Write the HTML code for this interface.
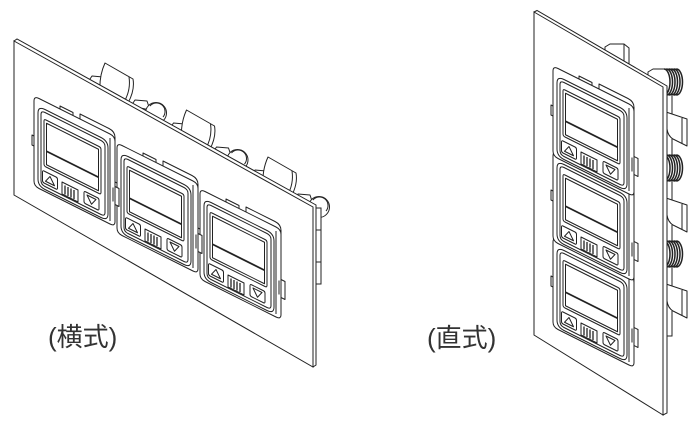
<!DOCTYPE html>
<html><head><meta charset="utf-8">
<style>
html,body{margin:0;padding:0;background:#fff;}
svg{display:block;}
</style></head><body>
<svg width="700" height="425" viewBox="0 0 700 425" xmlns="http://www.w3.org/2000/svg">

<!-- LEFT VIEW: behind panel (clips + connectors) -->
<g fill="#fff" stroke="#222" stroke-width="1" stroke-linejoin="round">
  <path d="M88,82 L92,76 L103,77 L103,88 Z"/>
  <path d="M105,63 L133,79 Q135,90 128,103 L100,92 Q99,76 105,63 Z"/>
  <path d="M129,77 Q131,90 124,102" fill="none"/>
  <path d="M131,106 L135,100 L147,101 L150,110 Z"/>
  <circle cx="156" cy="113" r="10.5"/>
  <path d="M150,106 A8,8 0 0 1 163,117" fill="none"/>
</g>
<g transform="translate(81.5,47)" fill="#fff" stroke="#222" stroke-width="1" stroke-linejoin="round">
  <path d="M88,82 L92,76 L103,77 L103,88 Z"/>
  <path d="M105,63 L133,79 Q135,90 128,103 L100,92 Q99,76 105,63 Z"/>
  <path d="M129,77 Q131,90 124,102" fill="none"/>
  <path d="M131,106 L135,100 L147,101 L150,110 Z"/>
  <circle cx="156" cy="113" r="10.5"/>
  <path d="M150,106 A8,8 0 0 1 163,117" fill="none"/>
</g>
<g transform="translate(163,94)" fill="#fff" stroke="#222" stroke-width="1" stroke-linejoin="round">
  <path d="M88,82 L92,76 L103,77 L103,88 Z"/>
  <path d="M105,63 L133,79 Q135,90 128,103 L100,92 Q99,76 105,63 Z"/>
  <path d="M129,77 Q131,90 124,102" fill="none"/>
  <path d="M131,106 L135,100 L147,101 L150,110 Z"/>
  <circle cx="156" cy="113" r="10.5"/>
  <path d="M150,106 A8,8 0 0 1 163,117" fill="none"/>
</g>
<rect x="313" y="208" width="8" height="76" fill="#fff" stroke="#222" stroke-width="1"/>
<line x1="313" y1="230" x2="321" y2="230" stroke="#222"/>
<line x1="313" y1="262" x2="321" y2="262" stroke="#222"/>

<!-- LEFT panel -->
<polygon points="14,41 17,39 316,205 316,365 313,367" fill="#fff" stroke="#222" stroke-width="1"/>
<polygon points="14,41 313,207 313,367 14,195" fill="#fff" stroke="#222" stroke-width="1"/>

<!-- LEFT device 3 -->
<g transform="translate(200,189)" fill="#fff" stroke="#222" stroke-width="1" stroke-linejoin="round">
  <path d="M26,19 L26,10 L39,16.5 L39,25.5 Z"/>
  <path d="M46,29 L46,18 L75,32.5 Q81,35.5 81,41.5 L81,46.5 Z"/>
  <path d="M81,90.5 L85,92.5 L85,110.5 L81,108.5 Z"/>
  <path d="M0,40 L-2,39 L-2,49 L0,50" fill="none"/>
  <path d="M5,2.5 L76,38 Q81,40.5 81,45.5 L81,125.5 Q81,130.5 76,128 L5,92.5 Q0,90 0,85 L0,5 Q0,0 5,2.5 Z"/>
  <line x1="76" y1="42" x2="76" y2="125"/>
  <line x1="79" y1="91.5" x2="79" y2="105.5"/>
  <path d="M11,13.5 L67,41.5 Q74,45 74,52 L74,118 Q74,125 67,121.5 L11,93.5 Q4,90 4,83 L4,17 Q4,10 11,13.5 Z"/>
  <path d="M11,16.5 L67,44.5 Q71,46.5 71,50.5 L71,116.5 Q71,120.5 67,118.5 L11,90.5 Q7,88.5 7,84.5 L7,18.5 Q7,14.5 11,16.5 Z"/>
  <path d="M12,24 L65,50.5 Q67,51.5 67,53.5 L67,96.5 Q67,98.5 65,97.5 L12,71 Q10,70 10,68 L10,25 Q10,23 12,24 Z"/>
  <path d="M12.5,27.25 L64.5,53.25 L64.5,94.75 L12.5,68.75 Z" fill="none"/>
  <line x1="12.5" y1="55.25" x2="64.5" y2="81.25" stroke-width="1.8"/>
  <path d="M10,75 L22,81 Q23.5,81.75 23.5,83.5 L23.5,92 Q23.5,93.75 22,93 L10,87 Q8.5,86.25 8.5,84.5 L8.5,76 Q8.5,74.25 10,75 Z"/>
  <path d="M11.5,85.25 L16,80.5 L20.5,89.75 Z" fill="none"/>
  <path d="M28,86 L44,94 L44,106 L28,98 Z"/>
  <path d="M31,89.5 L31,98.5 M34,91 L34,100 M37,92.5 L37,101.5 M40,94 L40,103" stroke-width="1.3" fill="none"/>
  <path d="M51.5,95.75 L63.5,101.75 Q65,102.5 65,104.25 L65,112.75 Q65,114.5 63.5,113.75 L51.5,107.75 Q50,107 50,105.25 L50,96.75 Q50,95 51.5,95.75 Z"/>
  <path d="M53,99 L62,103.5 L57.5,108.25 Z" fill="none"/>
</g>
<!-- LEFT device 2 -->
<g transform="translate(117,143)" fill="#fff" stroke="#222" stroke-width="1" stroke-linejoin="round">
  <path d="M26,19 L26,10 L39,16.5 L39,25.5 Z"/>
  <path d="M46,29 L46,18 L75,32.5 Q81,35.5 81,41.5 L81,46.5 Z"/>
  <path d="M81,90.5 L85,92.5 L85,110.5 L81,108.5 Z"/>
  <path d="M0,40 L-2,39 L-2,49 L0,50" fill="none"/>
  <path d="M5,2.5 L76,38 Q81,40.5 81,45.5 L81,125.5 Q81,130.5 76,128 L5,92.5 Q0,90 0,85 L0,5 Q0,0 5,2.5 Z"/>
  <line x1="76" y1="42" x2="76" y2="125"/>
  <line x1="79" y1="91.5" x2="79" y2="105.5"/>
  <path d="M11,13.5 L67,41.5 Q74,45 74,52 L74,118 Q74,125 67,121.5 L11,93.5 Q4,90 4,83 L4,17 Q4,10 11,13.5 Z"/>
  <path d="M11,16.5 L67,44.5 Q71,46.5 71,50.5 L71,116.5 Q71,120.5 67,118.5 L11,90.5 Q7,88.5 7,84.5 L7,18.5 Q7,14.5 11,16.5 Z"/>
  <path d="M12,24 L65,50.5 Q67,51.5 67,53.5 L67,96.5 Q67,98.5 65,97.5 L12,71 Q10,70 10,68 L10,25 Q10,23 12,24 Z"/>
  <path d="M12.5,27.25 L64.5,53.25 L64.5,94.75 L12.5,68.75 Z" fill="none"/>
  <line x1="12.5" y1="55.25" x2="64.5" y2="81.25" stroke-width="1.8"/>
  <path d="M10,75 L22,81 Q23.5,81.75 23.5,83.5 L23.5,92 Q23.5,93.75 22,93 L10,87 Q8.5,86.25 8.5,84.5 L8.5,76 Q8.5,74.25 10,75 Z"/>
  <path d="M11.5,85.25 L16,80.5 L20.5,89.75 Z" fill="none"/>
  <path d="M28,86 L44,94 L44,106 L28,98 Z"/>
  <path d="M31,89.5 L31,98.5 M34,91 L34,100 M37,92.5 L37,101.5 M40,94 L40,103" stroke-width="1.3" fill="none"/>
  <path d="M51.5,95.75 L63.5,101.75 Q65,102.5 65,104.25 L65,112.75 Q65,114.5 63.5,113.75 L51.5,107.75 Q50,107 50,105.25 L50,96.75 Q50,95 51.5,95.75 Z"/>
  <path d="M53,99 L62,103.5 L57.5,108.25 Z" fill="none"/>
</g>
<!-- LEFT device 1 -->
<g transform="translate(34,96)" fill="#fff" stroke="#222" stroke-width="1" stroke-linejoin="round">
  <path d="M26,19 L26,10 L39,16.5 L39,25.5 Z"/>
  <path d="M46,29 L46,18 L75,32.5 Q81,35.5 81,41.5 L81,46.5 Z"/>
  <path d="M81,90.5 L85,92.5 L85,110.5 L81,108.5 Z"/>
  <path d="M0,40 L-2,39 L-2,49 L0,50" fill="none"/>
  <path d="M5,2.5 L76,38 Q81,40.5 81,45.5 L81,125.5 Q81,130.5 76,128 L5,92.5 Q0,90 0,85 L0,5 Q0,0 5,2.5 Z"/>
  <line x1="76" y1="42" x2="76" y2="125"/>
  <line x1="79" y1="91.5" x2="79" y2="105.5"/>
  <path d="M11,13.5 L67,41.5 Q74,45 74,52 L74,118 Q74,125 67,121.5 L11,93.5 Q4,90 4,83 L4,17 Q4,10 11,13.5 Z"/>
  <path d="M11,16.5 L67,44.5 Q71,46.5 71,50.5 L71,116.5 Q71,120.5 67,118.5 L11,90.5 Q7,88.5 7,84.5 L7,18.5 Q7,14.5 11,16.5 Z"/>
  <path d="M12,24 L65,50.5 Q67,51.5 67,53.5 L67,96.5 Q67,98.5 65,97.5 L12,71 Q10,70 10,68 L10,25 Q10,23 12,24 Z"/>
  <path d="M12.5,27.25 L64.5,53.25 L64.5,94.75 L12.5,68.75 Z" fill="none"/>
  <line x1="12.5" y1="55.25" x2="64.5" y2="81.25" stroke-width="1.8"/>
  <path d="M10,75 L22,81 Q23.5,81.75 23.5,83.5 L23.5,92 Q23.5,93.75 22,93 L10,87 Q8.5,86.25 8.5,84.5 L8.5,76 Q8.5,74.25 10,75 Z"/>
  <path d="M11.5,85.25 L16,80.5 L20.5,89.75 Z" fill="none"/>
  <path d="M28,86 L44,94 L44,106 L28,98 Z"/>
  <path d="M31,89.5 L31,98.5 M34,91 L34,100 M37,92.5 L37,101.5 M40,94 L40,103" stroke-width="1.3" fill="none"/>
  <path d="M51.5,95.75 L63.5,101.75 Q65,102.5 65,104.25 L65,112.75 Q65,114.5 63.5,113.75 L51.5,107.75 Q50,107 50,105.25 L50,96.75 Q50,95 51.5,95.75 Z"/>
  <path d="M53,99 L62,103.5 L57.5,108.25 Z" fill="none"/>
</g>

<!-- RIGHT VIEW: behind panel -->
<polygon points="605,54 605,47 610,44 624,44 629,48 629,68" fill="#fff" stroke="#222" stroke-width="1"/>
<line x1="624" y1="44" x2="624" y2="64" stroke="#222"/>
<rect x="664" y="88" width="8" height="248" fill="#fff" stroke="#222" stroke-width="1"/>
<g fill="#fff" stroke="#222" stroke-width="1" stroke-linejoin="round">
  <path d="M648,82 L648,72 L653,69 L665,69 L668,73 L668,92 Z"/>
  <rect x="662" y="69" width="14" height="27" stroke="none"/>
  <path d="M664,69 A6,13 0 0 1 664,95 M666.5,69 A6,13 0 0 1 666.5,95 M669,69 A6,13 0 0 1 669,95 M671.5,69 A6,13 0 0 1 671.5,95 M674,69 A6,13 0 0 1 674,95 M676.5,69 A6,13 0 0 1 676.5,95" fill="none" stroke-width="1.5"/>
  <path d="M662,69 H676.5 M662,95 H676.5" fill="none"/>
  <path d="M666,112 L687,119 L687,146 L673,139 Q668,136 667,129 Z"/>
  <line x1="682" y1="118" x2="682" y2="144"/>
</g>
<g transform="translate(0,86)" fill="#fff" stroke="#222" stroke-width="1" stroke-linejoin="round">
  <path d="M648,82 L648,72 L653,69 L665,69 L668,73 L668,92 Z"/>
  <rect x="662" y="69" width="14" height="27" stroke="none"/>
  <path d="M664,69 A6,13 0 0 1 664,95 M666.5,69 A6,13 0 0 1 666.5,95 M669,69 A6,13 0 0 1 669,95 M671.5,69 A6,13 0 0 1 671.5,95 M674,69 A6,13 0 0 1 674,95 M676.5,69 A6,13 0 0 1 676.5,95" fill="none" stroke-width="1.5"/>
  <path d="M662,69 H676.5 M662,95 H676.5" fill="none"/>
  <path d="M666,112 L687,119 L687,146 L673,139 Q668,136 667,129 Z"/>
  <line x1="682" y1="118" x2="682" y2="144"/>
</g>
<g transform="translate(0,172)" fill="#fff" stroke="#222" stroke-width="1" stroke-linejoin="round">
  <path d="M648,82 L648,72 L653,69 L665,69 L668,73 L668,92 Z"/>
  <rect x="662" y="69" width="14" height="27" stroke="none"/>
  <path d="M664,69 A6,13 0 0 1 664,95 M666.5,69 A6,13 0 0 1 666.5,95 M669,69 A6,13 0 0 1 669,95 M671.5,69 A6,13 0 0 1 671.5,95 M674,69 A6,13 0 0 1 674,95 M676.5,69 A6,13 0 0 1 676.5,95" fill="none" stroke-width="1.5"/>
  <path d="M662,69 H676.5 M662,95 H676.5" fill="none"/>
  <path d="M666,112 L687,119 L687,146 L673,139 Q668,136 667,129 Z"/>
  <line x1="682" y1="118" x2="682" y2="144"/>
</g>

<!-- RIGHT panel -->
<polygon points="534,12 537,10.5 667,86 667,413 663,415" fill="#fff" stroke="#222" stroke-width="1"/>
<polygon points="534,12 663,87 663,415 534,335" fill="#fff" stroke="#222" stroke-width="1"/>

<!-- RIGHT device 3 -->
<g transform="translate(553,237)" fill="#fff" stroke="#222" stroke-width="1" stroke-linejoin="round">
  <path d="M26,19 L26,10 L39,16.5 L39,25.5 Z"/>
  <path d="M46,29 L46,18 L75,32.5 Q81,35.5 81,41.5 L81,46.5 Z"/>
  <path d="M81,90.5 L85,92.5 L85,110.5 L81,108.5 Z"/>
  <path d="M0,40 L-2,39 L-2,49 L0,50" fill="none"/>
  <path d="M5,2.5 L76,38 Q81,40.5 81,45.5 L81,125.5 Q81,130.5 76,128 L5,92.5 Q0,90 0,85 L0,5 Q0,0 5,2.5 Z"/>
  <line x1="76" y1="42" x2="76" y2="125"/>
  <line x1="79" y1="91.5" x2="79" y2="105.5"/>
  <path d="M11,13.5 L67,41.5 Q74,45 74,52 L74,118 Q74,125 67,121.5 L11,93.5 Q4,90 4,83 L4,17 Q4,10 11,13.5 Z"/>
  <path d="M11,16.5 L67,44.5 Q71,46.5 71,50.5 L71,116.5 Q71,120.5 67,118.5 L11,90.5 Q7,88.5 7,84.5 L7,18.5 Q7,14.5 11,16.5 Z"/>
  <path d="M12,24 L65,50.5 Q67,51.5 67,53.5 L67,96.5 Q67,98.5 65,97.5 L12,71 Q10,70 10,68 L10,25 Q10,23 12,24 Z"/>
  <path d="M12.5,27.25 L64.5,53.25 L64.5,94.75 L12.5,68.75 Z" fill="none"/>
  <line x1="12.5" y1="55.25" x2="64.5" y2="81.25" stroke-width="1.8"/>
  <path d="M10,75 L22,81 Q23.5,81.75 23.5,83.5 L23.5,92 Q23.5,93.75 22,93 L10,87 Q8.5,86.25 8.5,84.5 L8.5,76 Q8.5,74.25 10,75 Z"/>
  <path d="M11.5,85.25 L16,80.5 L20.5,89.75 Z" fill="none"/>
  <path d="M28,86 L44,94 L44,106 L28,98 Z"/>
  <path d="M31,89.5 L31,98.5 M34,91 L34,100 M37,92.5 L37,101.5 M40,94 L40,103" stroke-width="1.3" fill="none"/>
  <path d="M51.5,95.75 L63.5,101.75 Q65,102.5 65,104.25 L65,112.75 Q65,114.5 63.5,113.75 L51.5,107.75 Q50,107 50,105.25 L50,96.75 Q50,95 51.5,95.75 Z"/>
  <path d="M53,99 L62,103.5 L57.5,108.25 Z" fill="none"/>
</g>
<!-- RIGHT device 2 -->
<g transform="translate(553,151)" fill="#fff" stroke="#222" stroke-width="1" stroke-linejoin="round">
  <path d="M26,19 L26,10 L39,16.5 L39,25.5 Z"/>
  <path d="M46,29 L46,18 L75,32.5 Q81,35.5 81,41.5 L81,46.5 Z"/>
  <path d="M81,90.5 L85,92.5 L85,110.5 L81,108.5 Z"/>
  <path d="M0,40 L-2,39 L-2,49 L0,50" fill="none"/>
  <path d="M5,2.5 L76,38 Q81,40.5 81,45.5 L81,125.5 Q81,130.5 76,128 L5,92.5 Q0,90 0,85 L0,5 Q0,0 5,2.5 Z"/>
  <line x1="76" y1="42" x2="76" y2="125"/>
  <line x1="79" y1="91.5" x2="79" y2="105.5"/>
  <path d="M11,13.5 L67,41.5 Q74,45 74,52 L74,118 Q74,125 67,121.5 L11,93.5 Q4,90 4,83 L4,17 Q4,10 11,13.5 Z"/>
  <path d="M11,16.5 L67,44.5 Q71,46.5 71,50.5 L71,116.5 Q71,120.5 67,118.5 L11,90.5 Q7,88.5 7,84.5 L7,18.5 Q7,14.5 11,16.5 Z"/>
  <path d="M12,24 L65,50.5 Q67,51.5 67,53.5 L67,96.5 Q67,98.5 65,97.5 L12,71 Q10,70 10,68 L10,25 Q10,23 12,24 Z"/>
  <path d="M12.5,27.25 L64.5,53.25 L64.5,94.75 L12.5,68.75 Z" fill="none"/>
  <line x1="12.5" y1="55.25" x2="64.5" y2="81.25" stroke-width="1.8"/>
  <path d="M10,75 L22,81 Q23.5,81.75 23.5,83.5 L23.5,92 Q23.5,93.75 22,93 L10,87 Q8.5,86.25 8.5,84.5 L8.5,76 Q8.5,74.25 10,75 Z"/>
  <path d="M11.5,85.25 L16,80.5 L20.5,89.75 Z" fill="none"/>
  <path d="M28,86 L44,94 L44,106 L28,98 Z"/>
  <path d="M31,89.5 L31,98.5 M34,91 L34,100 M37,92.5 L37,101.5 M40,94 L40,103" stroke-width="1.3" fill="none"/>
  <path d="M51.5,95.75 L63.5,101.75 Q65,102.5 65,104.25 L65,112.75 Q65,114.5 63.5,113.75 L51.5,107.75 Q50,107 50,105.25 L50,96.75 Q50,95 51.5,95.75 Z"/>
  <path d="M53,99 L62,103.5 L57.5,108.25 Z" fill="none"/>
</g>
<!-- RIGHT device 1 -->
<g transform="translate(553,66)" fill="#fff" stroke="#222" stroke-width="1" stroke-linejoin="round">
  <path d="M26,19 L26,10 L39,16.5 L39,25.5 Z"/>
  <path d="M46,29 L46,18 L75,32.5 Q81,35.5 81,41.5 L81,46.5 Z"/>
  <path d="M81,90.5 L85,92.5 L85,110.5 L81,108.5 Z"/>
  <path d="M0,40 L-2,39 L-2,49 L0,50" fill="none"/>
  <path d="M5,2.5 L76,38 Q81,40.5 81,45.5 L81,125.5 Q81,130.5 76,128 L5,92.5 Q0,90 0,85 L0,5 Q0,0 5,2.5 Z"/>
  <line x1="76" y1="42" x2="76" y2="125"/>
  <line x1="79" y1="91.5" x2="79" y2="105.5"/>
  <path d="M11,13.5 L67,41.5 Q74,45 74,52 L74,118 Q74,125 67,121.5 L11,93.5 Q4,90 4,83 L4,17 Q4,10 11,13.5 Z"/>
  <path d="M11,16.5 L67,44.5 Q71,46.5 71,50.5 L71,116.5 Q71,120.5 67,118.5 L11,90.5 Q7,88.5 7,84.5 L7,18.5 Q7,14.5 11,16.5 Z"/>
  <path d="M12,24 L65,50.5 Q67,51.5 67,53.5 L67,96.5 Q67,98.5 65,97.5 L12,71 Q10,70 10,68 L10,25 Q10,23 12,24 Z"/>
  <path d="M12.5,27.25 L64.5,53.25 L64.5,94.75 L12.5,68.75 Z" fill="none"/>
  <line x1="12.5" y1="55.25" x2="64.5" y2="81.25" stroke-width="1.8"/>
  <path d="M10,75 L22,81 Q23.5,81.75 23.5,83.5 L23.5,92 Q23.5,93.75 22,93 L10,87 Q8.5,86.25 8.5,84.5 L8.5,76 Q8.5,74.25 10,75 Z"/>
  <path d="M11.5,85.25 L16,80.5 L20.5,89.75 Z" fill="none"/>
  <path d="M28,86 L44,94 L44,106 L28,98 Z"/>
  <path d="M31,89.5 L31,98.5 M34,91 L34,100 M37,92.5 L37,101.5 M40,94 L40,103" stroke-width="1.3" fill="none"/>
  <path d="M51.5,95.75 L63.5,101.75 Q65,102.5 65,104.25 L65,112.75 Q65,114.5 63.5,113.75 L51.5,107.75 Q50,107 50,105.25 L50,96.75 Q50,95 51.5,95.75 Z"/>
  <path d="M53,99 L62,103.5 L57.5,108.25 Z" fill="none"/>
</g>

<!-- labels -->
<text x="48" y="346" font-size="26" fill="#333" font-family="'Liberation Sans','Noto Sans CJK JP',sans-serif">(横式)</text>
<text x="427" y="347" font-size="26" fill="#333" font-family="'Liberation Sans','Noto Sans CJK JP',sans-serif">(直式)</text>
</svg>
</body></html>
